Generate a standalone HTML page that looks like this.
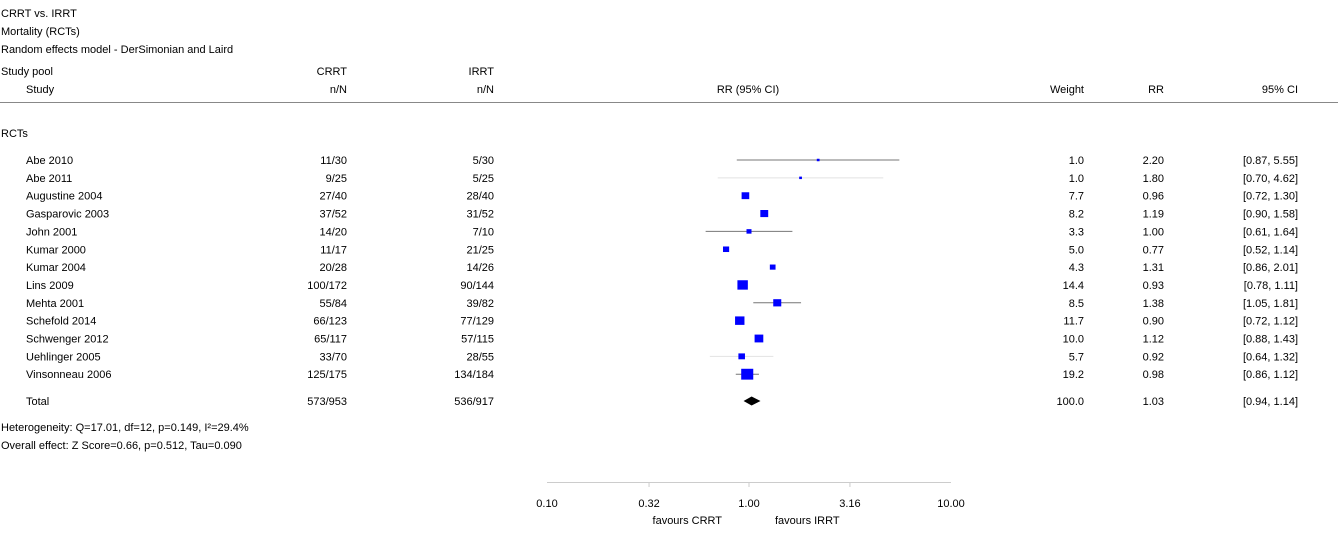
<!DOCTYPE html>
<html><head><meta charset="utf-8"><style>
html,body{margin:0;padding:0;background:#fff;}
svg{display:block;font-family:"Liberation Sans",Arial,sans-serif;font-size:11px;}
</style></head><body>
<svg id="plot" width="1338" height="535" viewBox="0 0 1338 535" xmlns="http://www.w3.org/2000/svg">
<g fill="#000">
<text x="1" y="17">CRRT vs. IRRT</text>
<text x="1" y="35">Mortality (RCTs)</text>
<text x="1" y="53">Random effects model - DerSimonian and Laird</text>
<text x="1" y="75">Study pool</text>
<text x="26" y="93">Study</text>
<text x="347" y="75" text-anchor="end">CRRT</text>
<text x="347" y="93" text-anchor="end">n/N</text>
<text x="494" y="75" text-anchor="end">IRRT</text>
<text x="494" y="93" text-anchor="end">n/N</text>
<text x="748" y="93" text-anchor="middle">RR (95% CI)</text>
<text x="1084" y="93" text-anchor="end">Weight</text>
<text x="1164" y="93" text-anchor="end">RR</text>
<text x="1298" y="93" text-anchor="end">95% CI</text>
</g>
<line x1="0" y1="102.5" x2="1338" y2="102.5" stroke="#888"/>
<text x="1" y="137">RCTs</text>
<g id="rows"></g>
<g id="axis"></g>
<text x="1" y="431">Heterogeneity: Q=17.01, df=12, p=0.149, I²=29.4%</text>
<text x="1" y="449">Overall effect: Z Score=0.66, p=0.512, Tau=0.090</text>
<text x="722" y="524" text-anchor="end">favours CRRT</text>
<text x="775" y="524">favours IRRT</text>
</svg>
<script>
const studies = ["Abe 2010","Abe 2011","Augustine 2004","Gasparovic 2003","John 2001","Kumar 2000","Kumar 2004","Lins 2009","Mehta 2001","Schefold 2014","Schwenger 2012","Uehlinger 2005","Vinsonneau 2006"];
const crrt = ["11/30","9/25","27/40","37/52","14/20","11/17","20/28","100/172","55/84","66/123","65/117","33/70","125/175"];
const irrt = ["5/30","5/25","28/40","31/52","7/10","21/25","14/26","90/144","39/82","77/129","57/115","28/55","134/184"];
const weights = [1.0,1.0,7.7,8.2,3.3,5.0,4.3,14.4,8.5,11.7,10.0,5.7,19.2];
const rr = [2.20,1.80,0.96,1.19,1.00,0.77,1.31,0.93,1.38,0.90,1.12,0.92,0.98];
const lo = [0.87,0.70,0.72,0.90,0.61,0.52,0.86,0.78,1.05,0.72,0.88,0.64,0.86];
const hi = [5.55,4.62,1.30,1.58,1.64,1.14,2.01,1.11,1.81,1.12,1.43,1.32,1.12];
const ciLine = ["dark","light","none","none","dark","none","none","none","dark","none","none","light","dark"];
const total = {label:"Total", crrt:"573/953", irrt:"536/917", weight:100.0, rr:1.03, lo:0.94, hi:1.14};
const ticks = [0.10,0.32,1.00,3.16,10.00];
const tickLabels = ["0.10","0.32","1.00","3.16","10.00"];

const NS="http://www.w3.org/2000/svg";
const x = v => 749 + 202*Math.log10(v);
const rowY = i => 160 + i*17.85;
function mk(tag, attrs, parent, txt){
  const e=document.createElementNS(NS,tag);
  for(const k in attrs) e.setAttribute(k,attrs[k]);
  if(txt!==undefined) e.textContent=txt;
  parent.appendChild(e); return e;
}
const rows=document.getElementById('rows');
const fmt=v=>v.toFixed(2);
studies.forEach((s,i)=>{
  const y=rowY(i);
  const g=mk('g',{},rows);
  
  
  let t;
  t=mk('text',{x:26,y:y+4},g,s);
   
  t=mk('text',{x:347,y:y+4,'text-anchor':'end'},g,crrt[i]);
   
  t=mk('text',{x:494,y:y+4,'text-anchor':'end'},g,irrt[i]);
   
  t=mk('text',{x:1084,y:y+4,'text-anchor':'end'},g,weights[i].toFixed(1));
   
  t=mk('text',{x:1164,y:y+4,'text-anchor':'end'},g,fmt(rr[i]));
   
  t=mk('text',{x:1298,y:y+4,'text-anchor':'end'},g,'['+fmt(lo[i])+', '+fmt(hi[i])+']');
   
  if(ciLine[i]!=="none"){
    const l=mk('line',{x1:x(lo[i]),x2:x(hi[i]),y1:y,y2:y,stroke:ciLine[i]==="dark"?"#777":"#e2e2e2","stroke-width":1},g);
     
  }
  const sz=2.75*Math.sqrt(weights[i]);
  const r=mk('rect',{x:x(rr[i])-sz/2,y:y-sz*0.45,width:sz,height:sz*0.9,fill:"#0000ff"},g);
   
});
// total
{
  const y=401;
  const g=mk('g',{},rows);
  
  
  let t;
  t=mk('text',{x:26,y:y+4},g,total.label);
   
  t=mk('text',{x:347,y:y+4,'text-anchor':'end'},g,total.crrt);
   
  t=mk('text',{x:494,y:y+4,'text-anchor':'end'},g,total.irrt);
   
  t=mk('text',{x:1084,y:y+4,'text-anchor':'end'},g,total.weight.toFixed(1));
   
  t=mk('text',{x:1164,y:y+4,'text-anchor':'end'},g,fmt(total.rr));
   
  t=mk('text',{x:1298,y:y+4,'text-anchor':'end'},g,'['+fmt(total.lo)+', '+fmt(total.hi)+']');
   
  const p=mk('polygon',{points:`${x(total.lo)},${y} ${x(total.rr)},${y-4.5} ${x(total.hi)},${y} ${x(total.rr)},${y+4.5}`,fill:"#000"},g);
   
}
// axis
const ax=document.getElementById('axis');
const al=mk('line',{x1:x(ticks[0]),x2:x(ticks[ticks.length-1]),y1:482.5,y2:482.5,stroke:"#ccc"},ax);
 
ticks.forEach((v,i)=>{
  if(i>0 && i<ticks.length-1){
    const tk=mk('line',{x1:x(v),x2:x(v),y1:482,y2:487,stroke:"#ccc"},ax);
     
  }
  const t=mk('text',{x:x(v),y:507,'text-anchor':'middle'},ax,tickLabels[i]);
   
});
</script>
</body></html>
